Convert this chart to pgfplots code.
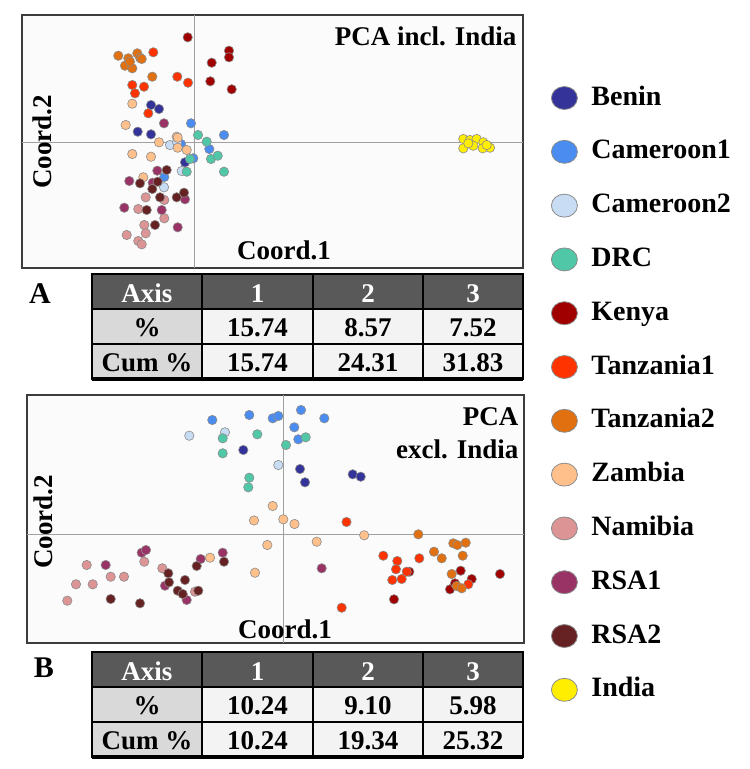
\documentclass[border=0pt]{standalone}
\usepackage{fontspec}
\setmainfont{Liberation Serif}
\usepackage{pgfplots}
\pgfplotsset{compat=1.18}
\definecolor{cBenin}{HTML}{333399}
\definecolor{cCamA}{HTML}{4A8CF0}
\definecolor{cCamB}{HTML}{C8DCF4}
\definecolor{cDRC}{HTML}{50C8A8}
\definecolor{cKenya}{HTML}{A00000}
\definecolor{cTanA}{HTML}{FF3300}
\definecolor{cTanB}{HTML}{E07010}
\definecolor{cZam}{HTML}{FFC08C}
\definecolor{cNam}{HTML}{DC9494}
\definecolor{cRSAA}{HTML}{993366}
\definecolor{cRSAB}{HTML}{662222}
\definecolor{cInd}{HTML}{FFEE00}
\definecolor{edge}{HTML}{8C8C8C}
\definecolor{hdr}{HTML}{595959}
\definecolor{rowh}{HTML}{D9D9D9}
\definecolor{cellc}{HTML}{F3F3F3}
\definecolor{frame}{HTML}{3C3C3C}
\definecolor{bg}{HTML}{FBFBFB}
\definecolor{gridc}{HTML}{A0A0A0}
\pgfplotsset{
  grp/.style={only marks, mark=*, mark size=4.7pt,
    mark options={fill=#1, draw=edge, line width=0.6pt},
    legend image code/.code={\path[draw=edge, fill=#1, line width=0.8pt] (0pt,0pt) ellipse (13pt and 11.5pt); \path[draw=none, fill=none] (-13pt,0pt) rectangle (27pt,0.1pt);}},
  pca/.style={scale only axis, anchor=south west, axis background/.style={fill=bg},
    axis line style={draw=frame, line width=1.5pt}, xtick=\empty, ytick=\empty}
}
\newcommand{\bigf}{\fontsize{27}{30}\selectfont\bfseries}
\begin{document}
\begin{tikzpicture}
\useasboundingbox (0pt,0pt) rectangle (750pt,-769pt);
% ---------------- Panel A ----------------
\begin{axis}[pca, at={(22pt,-268pt)}, width=501pt, height=253pt,
  xmin=-172, xmax=329, ymin=-126, ymax=127,
  legend cell align=left,
  legend style={at={(1.0559,0.7233)}, anchor=north west, draw=none, fill=none,
    inner sep=0pt, outer sep=0pt, row sep=27.8pt, column sep=0pt,
    font=\fontsize{28}{30}\selectfont\bfseries,
    nodes={inner sep=0pt, text height=20pt, text depth=6pt}}]
\draw[gridc, line width=1pt] (axis cs:0,-126) -- (axis cs:0,127);
\draw[gridc, line width=1pt] (axis cs:-172,0) -- (axis cs:329,0);
\addplot[grp=cBenin] coordinates {(-43,37) (-35,33) (-56.3,10.3) (-43,7.7) (-9,-20.3)};
\addlegendentry{Benin}
\addplot[grp=cCamA] coordinates {(-3,18.7) (30,7) (15.3,-7) (-0.7,-16.3) (-29.7,-35) (-13,-2)};
\addlegendentry{Cameroon1}
\addplot[grp=cCamB] coordinates {(-24,-3) (-12.3,-29) (-30,-45.3) (-17,0)};
\addlegendentry{Cameroon2}
\addplot[grp=cDRC] coordinates {(12.7,0.3) (17,-17) (23.7,-13.7) (-4,-17) (-7.3,-29.7) (30,-29.7) (4,7)};
\addlegendentry{DRC}
\addplot[grp=cKenya] coordinates {(-6.3,104.7) (35,91.3) (35,84.7) (17.7,79.3) (16.3,60.7) (37.7,52.7)};
\addlegendentry{Kenya}
\addplot[grp=cTanA] coordinates {(-40.7,89.7) (-16.7,65.3) (-6,59.3) (-61.7,57) (-50,55.3) (-59,48.7) (-45.7,28.7)};
\addlegendentry{Tanzania1}
\addplot[grp=cTanB] coordinates {(-75.7,86.3) (-65.7,83.7) (-56.7,88.7) (-54,84.3) (-52.3,83) (-69,76.3) (-61.7,73.7) (-64,80.3) (-41.7,65.3)};
\addlegendentry{Tanzania2}
\addplot[grp=cZam] coordinates {(-61.7,38.3) (-68.3,17) (-17.3,5.3) (-35,-0.3) (-16.3,4.3) (-16.3,-5.7) (-7.3,-8) (-61.7,-12) (-43,-14.7) (-50.7,-35.3)};
\addlegendentry{Zambia}
\addplot[grp=cNam] coordinates {(-48.3,-55.3) (-29.7,-58) (-55.7,-67) (-29.7,-76.3) (-49.7,-83) (-48.3,-91.3) (-67.3,-93) (-55.7,-99) (-52.3,-102.3)};
\addlegendentry{Namibia}
\addplot[grp=cRSAA] coordinates {(-30,18.7) (-36.7,-28.7) (-64.7,-39) (-69.7,-65.7) (-32.3,-68) (-16.3,-85.3) (-9,-57.3) (-41.3,-40.7)};
\addlegendentry{RSA1}
\addplot[grp=cRSAB] coordinates {(-27.3,-28) (-54,-41.3) (-36.3,-39.7) (-41.7,-47) (-34,-55.3) (-17.3,-55.3) (-10,-50.7) (-47.3,-68) (-39,-83)};
\addlegendentry{RSA2}
\addplot[grp=cInd] coordinates {(269.3,3) (276,2) (282.7,3) (289.3,-0.3) (296,-5.7) (288.7,-6.3) (279.3,-3.7) (269.3,-6.3) (274.3,-1.3) (292.7,-3)};
\addlegendentry{India}
\end{axis}
% ---------------- Panel B ----------------
\begin{axis}[pca, at={(27pt,-643pt)}, width=497pt, height=248pt,
  xmin=-256, xmax=241, ymin=-109, ymax=139]
\draw[gridc, line width=1pt] (axis cs:0,-109) -- (axis cs:0,139);
\draw[gridc, line width=1pt] (axis cs:-256,0) -- (axis cs:241,0);
\addplot[grp=cBenin] coordinates {(-39.7,84) (17,65) (22,51.7) (69.7,59.7) (77.7,57.3)};
\addplot[grp=cCamA] coordinates {(-70.7,114) (-33.7,119) (-10.3,115.7) (-4.7,118) (18,124) (41.3,115.7) (11.3,106.7) (15.3,94.7)};
\addplot[grp=cCamB] coordinates {(-93.7,98.3) (-58,101.7) (-4.7,69)};
\addplot[grp=cDRC] coordinates {(-60.3,95.7) (-25.7,99.7) (-60.3,80.7) (-33.7,56.3) (-34.7,46.7) (3,89) (22.7,96.7)};
\addplot[grp=cKenya] coordinates {(126.3,-37.7) (177.7,-36.7) (188.7,-45) (217,-40) (167,-55.3) (172,-49.3) (111,-65.3)};
\addplot[grp=cTanA] coordinates {(63.5,12) (100.3,-21.7) (114.3,-27) (113,-35.3) (136.3,-24.3) (123.7,-37.7) (109.3,-46) (118.7,-45) (58.7,-73.7) (185.3,-50.3)};
\addplot[grp=cTanB] coordinates {(135.3,-0.3) (151,-17.7) (158.7,-24.3) (170.3,-9.3) (174.3,-11) (182.7,-8.7) (179.7,-21.7) (168.7,-40) (173.7,-52) (178.7,-54.3)};
\addplot[grp=cZam] coordinates {(-10.3,28) (-29,13.5) (0.3,14.7) (11.5,10) (81.2,-1.3) (33.7,-7.7) (-15.7,-11) (-28,-38.7) (-73,-23.7)};
\addplot[grp=cNam] coordinates {(-215.7,-66.7) (-207,-50.3) (-196.3,-31) (-190.3,-50.3) (-172.3,-42.7) (-159,-42.7) (-138.7,-27.7) (-120.7,-34.3) (-88,-57.7)};
\addplot[grp=cRSAA] coordinates {(38.7,-34.3) (-177.3,-31) (-141.3,-18.7) (-137,-16) (-118,-51.7) (-82.3,-25) (-60.3,-18.7) (-96.3,-66)};
\addplot[grp=cRSAB] coordinates {(-172.3,-65) (-143,-69.3) (-114.7,-39.3) (-114,-48.3) (-98,-46) (-105.3,-56.7) (-100.3,-60) (-84.7,-56.7) (-86.3,-32) (-59,-27.7)};
\end{axis}
% ---------------- texts and tables ----------------
\begin{scope}[x=1pt, y=-1pt]
\node[anchor=base east, font=\bigf] at (520,45) {PCA incl. India};
\node[rotate=90, font=\bigf] at (42,142) {Coord.2};
\node[anchor=base, font=\bigf] at (284,259) {Coord.1};
\node[anchor=base east, font=\bigf] at (522,425) {PCA};
\node[anchor=base east, font=\bigf] at (522,458) {excl. India};
\node[rotate=90, font=\bigf] at (43,522) {Coord.2};
\node[anchor=base, font=\bigf] at (285,638) {Coord.1};
\node[anchor=base, font=\fontsize{30}{32}\selectfont\bfseries] at (40,303) {A};
\node[anchor=base, font=\fontsize{30}{32}\selectfont\bfseries] at (44,677) {B};
% tables
\foreach \T/\va/\vb/\vc/\wa/\wb/\wc in {274/15.74/8.57/7.52/15.74/24.31/31.83, 652/10.24/9.10/5.98/10.24/19.34/25.32}{
  \fill[hdr] (92,\T) rectangle (523,\T+35);
  \fill[rowh] (92,\T+35) rectangle (202,\T+105);
  \fill[cellc] (202,\T+35) rectangle (523,\T+105);
  \draw[black, line width=1.6pt] (92,\T) rectangle (523,\T+105);
  \draw[black, line width=1.8pt] (92,\T+35) -- (523,\T+35);
  \draw[black, line width=1.8pt] (92,\T+70) -- (523,\T+70);
  \foreach \c in {202,313,423} {\draw[black, line width=1.8pt] (\c,\T) -- (\c,\T+105);}
  \draw[black, line width=3.5pt] (92,\T+105) -- (523,\T+105);
  \node[anchor=base, font=\bigf, text=white] at (147,\T+28) {Axis};
  \node[anchor=base, font=\bigf, text=white] at (257.5,\T+28) {1};
  \node[anchor=base, font=\bigf, text=white] at (368,\T+28) {2};
  \node[anchor=base, font=\bigf, text=white] at (473,\T+28) {3};
  \node[anchor=base, font=\bigf] at (147,\T+62) {\%};
  \node[anchor=base, font=\bigf] at (257.5,\T+62) {\va};
  \node[anchor=base, font=\bigf] at (368,\T+62) {\vb};
  \node[anchor=base, font=\bigf] at (473,\T+62) {\vc};
  \node[anchor=base, font=\bigf] at (147,\T+97) {Cum \%};
  \node[anchor=base, font=\bigf] at (257.5,\T+97) {\wa};
  \node[anchor=base, font=\bigf] at (368,\T+97) {\wb};
  \node[anchor=base, font=\bigf] at (473,\T+97) {\wc};
}
\end{scope}
\end{tikzpicture}
\end{document}
